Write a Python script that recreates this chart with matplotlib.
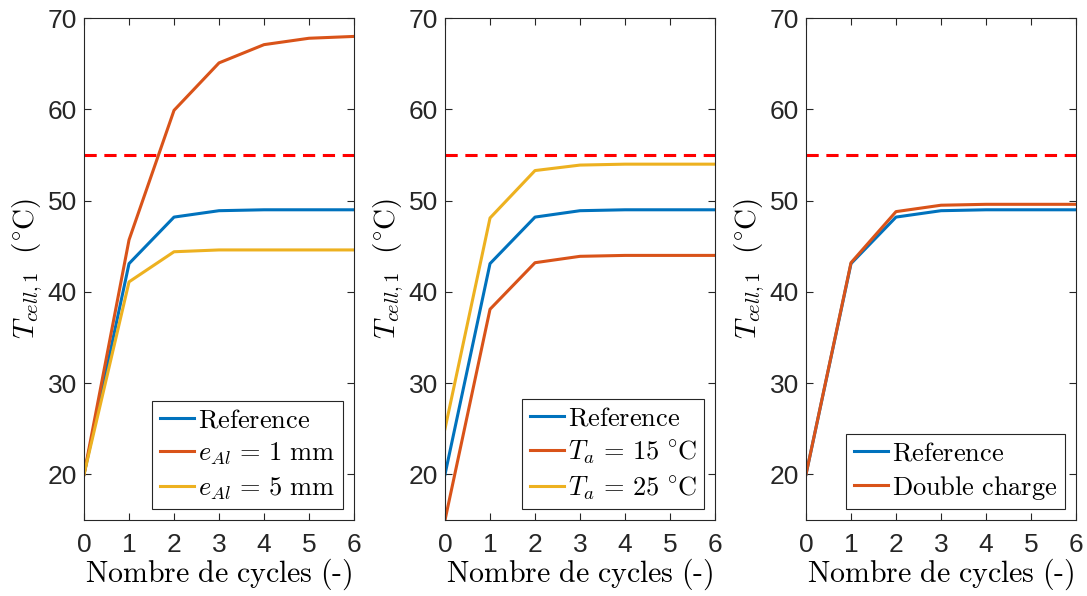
import numpy as np
import matplotlib
matplotlib.use("Agg")
import matplotlib.pyplot as plt

plt.rcParams['mathtext.fontset'] = 'cm'
plt.rcParams['font.family'] = ['Liberation Sans', 'DejaVu Sans']

# donnees
cycles = [0, 1, 2, 3, 4, 5, 6]
t_ref = [20, 43.1, 48.2, 48.9, 49.0, 49.0, 49.0]
t_e1mm = [20, 45.7, 59.9, 65.1, 67.1, 67.8, 68.0]
t_e5mm = [20, 41.1, 44.4, 44.6, 44.6, 44.6, 44.6]
t_ta15 = [15, 38.1, 43.2, 43.9, 44.0, 44.0, 44.0]
t_ta25 = [25, 48.1, 53.3, 53.9, 54.0, 54.0, 54.0]
t_double = [20, 43.2, 48.8, 49.5, 49.6, 49.6, 49.6]
t_limite = 55

lab_ref = r'$\mathrm{Reference}$'
lab_e1 = r'$e_{Al}\, =\, 1\ \mathrm{mm}$'
lab_e5 = r'$e_{Al}\, =\, 5\ \mathrm{mm}$'
lab_t15 = r'$T_a\, =\, 15\ ^{\circ}\hspace{-0.06}\mathrm{C}$'
lab_t25 = r'$T_a\, =\, 25\ ^{\circ}\hspace{-0.06}\mathrm{C}$'
lab_dc = r'$\mathrm{Double\ charge}$'

bleu = (0, 0.447, 0.741)
orange = (0.85, 0.325, 0.098)
jaune = (0.929, 0.694, 0.125)
gris = (0.15, 0.15, 0.15)

fig = plt.figure(figsize=(10.87, 5.96), dpi=100)
lefts = [0.0773, 0.4094, 0.7415]
axes = [fig.add_axes([l, 0.1275, 0.2484, 0.842]) for l in lefts]

series = [
    [(t_ref, bleu, lab_ref), (t_e1mm, orange, lab_e1), (t_e5mm, jaune, lab_e5)],
    [(t_ref, bleu, lab_ref), (t_ta15, orange, lab_t15), (t_ta25, jaune, lab_t25)],
    [(t_ref, bleu, lab_ref), (t_double, orange, lab_dc)],
]

for ax, ss in zip(axes, series):
    for y, c, lab in ss:
        ax.plot(cycles, y, color=c, lw=2.2, label=lab)
    ax.axhline(t_limite, color='r', ls=(0, (4, 2.5)), lw=2.2)
    ax.set_xlim(0, 6)
    ax.set_ylim(15, 70)
    ax.set_xticks(cycles)
    ax.set_yticks([20, 30, 40, 50, 60, 70])
    ax.tick_params(direction='in', top=True, right=True, labelsize=19,
                   colors=gris, length=5, width=0.8)
    ax.tick_params(axis='x', pad=9)
    ax.tick_params(axis='y', pad=5)
    for sp in ax.spines.values():
        sp.set_color(gris)
        sp.set_linewidth(0.8)
    ax.set_xlabel(r'$\mathrm{Nombre\ de\ cycles\ (\text{-})}$', fontsize=21.5, color='k', labelpad=0)
    ax.set_ylabel(r'$T_{cell,1}\ \ (^{\circ}\hspace{-0.06}\mathrm{C})$', fontsize=21, color='k', labelpad=2)
    leg = ax.legend(loc='lower right', fontsize=19, fancybox=False, framealpha=1,
                    handlelength=1.3, handletextpad=0.15, borderpad=0.3,
                    labelspacing=0.3, borderaxespad=0.4)
    leg.get_frame().set_edgecolor(gris)
    leg.get_frame().set_linewidth(0.8)

fig.savefig('out.png', dpi=100)
